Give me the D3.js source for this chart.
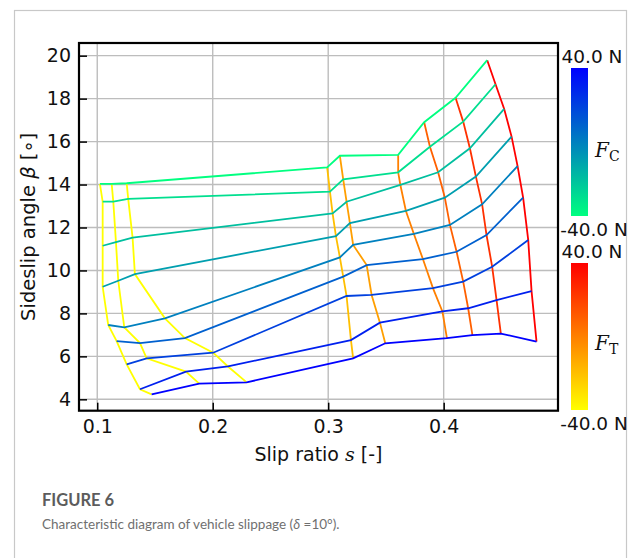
<!DOCTYPE html>
<html>
<head>
<meta charset="utf-8">
<script src="https://cdn.jsdelivr.net/npm/d3@7"></script>
<style>
  body { margin: 0; background: #fff; }
  svg text { font-family: "DejaVu Sans", sans-serif; }
</style>
</head>
<body>
<div id="chart"></div>
<script>
// force levels of each line family (N)
const fcLevels = [-40, -30, -20, -10, 0, 10, 20, 30, 40];
const ftLevels = [-40, -40, -40, -20, -10, 0, 10, 25, 40];

// slip ratio s, one row per Fc level, one column per Ft line
const slipRows = [
  [0.1023, 0.1125, 0.1255, 0.2991, 0.3101, 0.3606, 0.3831, 0.4103, 0.4377],
  [0.1047, 0.1139, 0.1268, 0.3015, 0.3130, 0.3606, 0.3881, 0.4169, 0.4449],
  [0.1047, 0.1162, 0.1306, 0.3038, 0.3159, 0.3625, 0.3952, 0.4227, 0.4524],
  [0.1047, 0.1182, 0.1326, 0.3067, 0.3188, 0.3673, 0.4010, 0.4279, 0.4588],
  [0.1095, 0.1234, 0.1586, 0.3101, 0.3216, 0.3742, 0.4054, 0.4333, 0.4640],
  [0.1168, 0.1370, 0.1759, 0.3130, 0.3333, 0.3820, 0.4112, 0.4371, 0.4688],
  [0.1255, 0.1428, 0.2004, 0.3159, 0.3376, 0.3907, 0.4169, 0.4420, 0.4732],
  [0.1370, 0.1768, 0.2132, 0.3197, 0.3448, 0.3989, 0.4212, 0.4458, 0.4761],
  [0.1471, 0.1883, 0.2294, 0.3216, 0.3494, 0.4028, 0.4249, 0.4495, 0.4804]
];

// sideslip angle beta (deg), same layout
const betaRows = [
  [14.03, 14.03, 14.06, 14.80, 15.34, 15.38, 16.90, 18.04, 19.79],
  [13.20, 13.20, 13.33, 13.67, 14.24, 14.57, 15.76, 16.93, 18.67],
  [11.15, 11.32, 11.53, 12.66, 13.20, 13.98, 14.57, 15.69, 17.52],
  [9.24, 9.52, 9.83, 11.60, 12.20, 12.77, 13.39, 14.37, 16.23],
  [7.46, 7.35, 7.77, 10.61, 11.19, 11.70, 12.12, 13.08, 14.86],
  [6.71, 6.62, 6.85, 9.71, 10.25, 10.53, 10.87, 11.65, 13.39],
  [5.63, 5.91, 6.17, 8.81, 8.86, 9.18, 9.48, 10.17, 11.42],
  [4.47, 5.29, 5.53, 6.76, 7.57, 8.09, 8.24, 8.62, 9.04],
  [4.23, 4.73, 4.79, 5.91, 6.61, 6.85, 6.99, 7.06, 6.69]
];

const xTicks = [0.1, 0.2, 0.3, 0.4];
const yTicks = [4, 6, 8, 10, 12, 14, 16, 18, 20];
const barTicks = ["40.0 N", "-40.0 N"];

const W = 640, H = 558;
const plot = {left: 79, right: 558, top: 43, bottom: 410.7};

const svg = d3.select("#chart").append("svg")
    .attr("width", W)
    .attr("height", H);

// outer figure border
svg.append("rect")
    .attr("x", 14.5).attr("y", 10.5)
    .attr("width", 612).attr("height", 600)
    .attr("fill", "none")
    .attr("stroke", "#c8c8c8")
    .attr("stroke-width", 1.2);

const x = d3.scaleLinear().domain([0.0842, 0.4990]).range([plot.left, plot.right]);
const y = d3.scaleLinear().domain([3.47, 20.59]).range([plot.bottom, plot.top]);

// colormaps: winter for Fc, autumn for Ft (-40 N .. 40 N)
const tOf = v => Math.max(0, Math.min(1, (40 - v) / 80));
const winter = v => { const t = tOf(v); return d3.rgb(0, 255 * t, 255 * (1 - 0.5 * t)).formatHex(); };
const autumn = v => { const t = tOf(v); return d3.rgb(255, 255 * t, 0).formatHex(); };

// grid
const grid = svg.append("g");
grid.selectAll("line.gx")
    .data(xTicks)
    .enter().append("line")
    .attr("x1", d => x(d)).attr("x2", d => x(d))
    .attr("y1", plot.top).attr("y2", plot.bottom)
    .attr("stroke", "#bdbdbd").attr("stroke-width", 1.4);
grid.selectAll("line.gy")
    .data(yTicks)
    .enter().append("line")
    .attr("y1", d => y(d)).attr("y2", d => y(d))
    .attr("x1", plot.left).attr("x2", plot.right)
    .attr("stroke", "#bdbdbd").attr("stroke-width", 1.4);

const line = d3.line().x(d => x(d[0])).y(d => y(d[1]));

// Ft lines (constant traction force)
const ftLines = ftLevels.map((v, j) => ({
    v: v,
    pts: slipRows.map((row, i) => [row[j], betaRows[i][j]])
}));
svg.append("g")
    .selectAll("path")
    .data(ftLines)
    .enter().append("path")
    .attr("d", d => line(d.pts))
    .attr("fill", "none")
    .attr("stroke", d => autumn(d.v))
    .attr("stroke-width", 1.8);

// Fc lines (constant cornering force)
const fcLines = fcLevels.map((v, i) => ({
    v: v,
    pts: slipRows[i].map((s, j) => [s, betaRows[i][j]])
}));
svg.append("g")
    .selectAll("path")
    .data(fcLines)
    .enter().append("path")
    .attr("d", d => line(d.pts))
    .attr("fill", "none")
    .attr("stroke", d => winter(d.v))
    .attr("stroke-width", 1.8);

// axes with inward ticks
const xAxis = svg.append("g")
    .attr("transform", `translate(0,${plot.bottom})`)
    .call(d3.axisBottom(x).tickValues(xTicks).tickFormat(d3.format(".1f")).tickSize(-8).tickPadding(9));
const yAxis = svg.append("g")
    .attr("transform", `translate(${plot.left},0)`)
    .call(d3.axisLeft(y).tickValues(yTicks).tickFormat(d3.format("d")).tickSize(-8).tickPadding(8));
[xAxis, yAxis].forEach(g => {
    g.select(".domain").remove();
    g.selectAll(".tick line").attr("stroke", "#000").attr("stroke-width", 1.5);
    g.selectAll(".tick text").attr("fill", "#111").style("font-size", "19px");
});

// frame
svg.append("rect")
    .attr("x", plot.left).attr("y", plot.top)
    .attr("width", plot.right - plot.left).attr("height", plot.bottom - plot.top)
    .attr("fill", "none").attr("stroke", "#000").attr("stroke-width", 2.2);

// axis labels
svg.append("text")
    .attr("transform", `translate(35,${(plot.top + plot.bottom) / 2}) rotate(-90)`)
    .attr("text-anchor", "middle")
    .style("font-size", "19.5px")
    .attr("fill", "#111")
    .call(t => {
        t.append("tspan").text("Sideslip angle ");
        t.append("tspan").attr("font-style", "italic").text("β");
        t.append("tspan").text(" [∘]");
    });

svg.append("text")
    .attr("x", (plot.left + plot.right) / 2).attr("y", 461)
    .attr("text-anchor", "middle")
    .style("font-size", "19px")
    .attr("fill", "#111")
    .call(t => {
        t.append("tspan").text("Slip ratio ");
        t.append("tspan").attr("font-style", "italic").style("font-family", "'DejaVu Serif', serif").text("s");
        t.append("tspan").text(" [-]");
    });

// colorbars
const bars = [
    {id: "gradFc", scale: winter, top: 68, bottom: 216, sym: "C", labelY: 157},
    {id: "gradFt", scale: autumn, top: 263, bottom: 410, sym: "T", labelY: 350}
];
const defs = svg.append("defs");
const barScale = d3.scaleLinear().domain([40, -40]);
bars.forEach(b => {
    const grad = defs.append("linearGradient")
        .attr("id", b.id)
        .attr("x1", 0).attr("y1", 0).attr("x2", 0).attr("y2", 1);
    d3.range(0, 1.0001, 0.05).forEach(t => {
        grad.append("stop")
            .attr("offset", t)
            .attr("stop-color", b.scale(40 - 80 * t));
    });
    barScale.range([b.top, b.bottom]);
    svg.append("rect")
        .attr("x", 571).attr("y", barScale(40))
        .attr("width", 17).attr("height", barScale(-40) - barScale(40))
        .attr("fill", `url(#${b.id})`);
    svg.append("text")
        .attr("x", 592).attr("y", b.top - 5)
        .attr("text-anchor", "middle")
        .style("font-size", "18.5px").attr("fill", "#111")
        .text(barTicks[0]);
    svg.append("text")
        .attr("x", 594).attr("y", b.bottom + 20)
        .attr("text-anchor", "middle")
        .style("font-size", "18.5px").attr("fill", "#111")
        .text(barTicks[1]);
    const lab = svg.append("text")
        .attr("x", 595).attr("y", b.labelY)
        .style("font-family", "'DejaVu Serif', serif")
        .attr("fill", "#111");
    lab.append("tspan").attr("font-style", "italic").style("font-size", "20px").text("F");
    lab.append("tspan").attr("dy", 4).style("font-size", "14px").text(b.sym);
});

// caption
svg.append("text")
    .attr("x", 42).attr("y", 506)
    .style("font-family", "Lato, sans-serif")
    .style("font-size", "16.5px").style("font-weight", 700)
    .attr("fill", "#5c5c5c")
    .text("FIGURE 6");
svg.append("text")
    .attr("x", 42).attr("y", 529)
    .style("font-family", "Lato, sans-serif")
    .style("font-size", "13.5px")
    .attr("fill", "#707070")
    .call(t => {
        t.append("tspan").text("Characteristic diagram of vehicle slippage (");
        t.append("tspan").attr("font-style", "italic").text("δ");
        t.append("tspan").text(" =10°).");
    });
</script>
</body>
</html>
